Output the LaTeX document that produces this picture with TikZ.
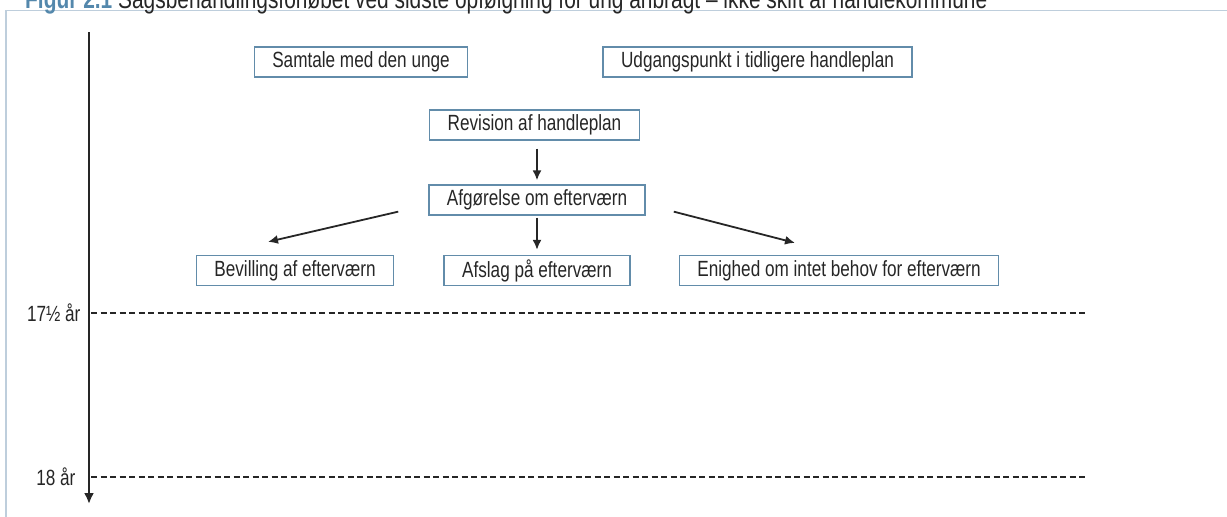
\documentclass[tikz,border=0pt]{standalone}
\usepackage{fontspec}
\setmainfont[FakeStretch=0.78]{Liberation Sans}
\usetikzlibrary{positioning, arrows.meta}

\definecolor{boxblue}{RGB}{98,140,170}
\definecolor{framegrey}{RGB}{190,206,220}
\definecolor{titleblue}{RGB}{84,136,172}
\definecolor{inkgrey}{RGB}{38,38,38}

\tikzset{
    stepbox/.style={draw=boxblue, line width=1.3pt, text=inkgrey,
        minimum height=30pt, inner xsep=18pt, inner ysep=0pt},
    flow/.style={-{Latex[length=10pt, width=9pt]}, line width=1.8pt, draw=inkgrey},
    agemark/.style={anchor=east, text=inkgrey},
    ageline/.style={line width=1.3pt, draw=inkgrey,
        dash pattern=on 6pt off 3.5pt}
}

\begin{document}
\begin{tikzpicture}[x=1pt, y=-1pt, font=\fontsize{22}{24}\selectfont]
    \useasboundingbox (0,0) rectangle (1227,517);
    % ramme og titel
    \draw[framegrey, line width=1.5pt] (1227,10.5) -- (6,10.5) -- (6,517);
    \node[anchor=base west, inner sep=0pt, font=\fontsize{26.8}{28}\selectfont] (title) at (25,8.5)
        {\textcolor{titleblue}{\bfseries Figur 2.1}\ \textcolor{inkgrey}{Sagsbehandlingsforløbet ved sidste opfølgning for ung anbragt – ikke skift af handlekommune}};

    % tidsakse
    \coordinate (ttop) at (89,32);
    \coordinate (tbot) at (89,504);
    \draw[-{Latex[length=11pt, width=10pt]}, line width=2.8pt, draw=inkgrey] (ttop) -- (tbot);
    \node[agemark] (halv) at (84,313) {17½ år};
    \node[agemark] (atten) at (79,477) {18 år};
    \coordinate (halvend) at (1085,313);
    \coordinate (attenend) at (1085,477);
    \draw[ageline] (91,313) -- (halvend);
    \draw[ageline] (91,477) -- (attenend);

    % kasser
    \node[stepbox] (samtale) at (361,62) {Samtale med den unge};
    \node[stepbox] (udgang) at (757.5,62) {Udgangspunkt i tidligere handleplan};
    \node[stepbox] (revision) at (534.5,125) {Revision af handleplan};
    \node[stepbox] (afgoer) at (537,200) {Afgørelse om efterværn};
    \node[stepbox] (bevilling) at (295,270.5) {Bevilling af efterværn};
    \node[stepbox] (afslag) at (537,270.5) {Afslag på efterværn};
    \node[stepbox] (enighed) at (839,270.5) {Enighed om intet behov for efterværn};

    % pile
    \coordinate (lstart) at ([xshift=-30pt, yshift=4pt]afgoer.south west);
    \coordinate (lend) at ([xshift=-27pt, yshift=13pt]bevilling.north);
    \coordinate (rstart) at ([xshift=28pt, yshift=4pt]afgoer.south east);
    \coordinate (rend) at ([xshift=-44pt, yshift=12pt]enighed.north);
    \draw[flow, shorten <=8pt, shorten >=4pt] (afgoer.north |- revision.south) -- (afgoer.north);
    \draw[flow, shorten <=2pt, shorten >=5pt] (afgoer.south) -- (afslag.north);
    \draw[flow] (lstart) -- (lend);
    \draw[flow] (rstart) -- (rend);
\end{tikzpicture}
\end{document}
